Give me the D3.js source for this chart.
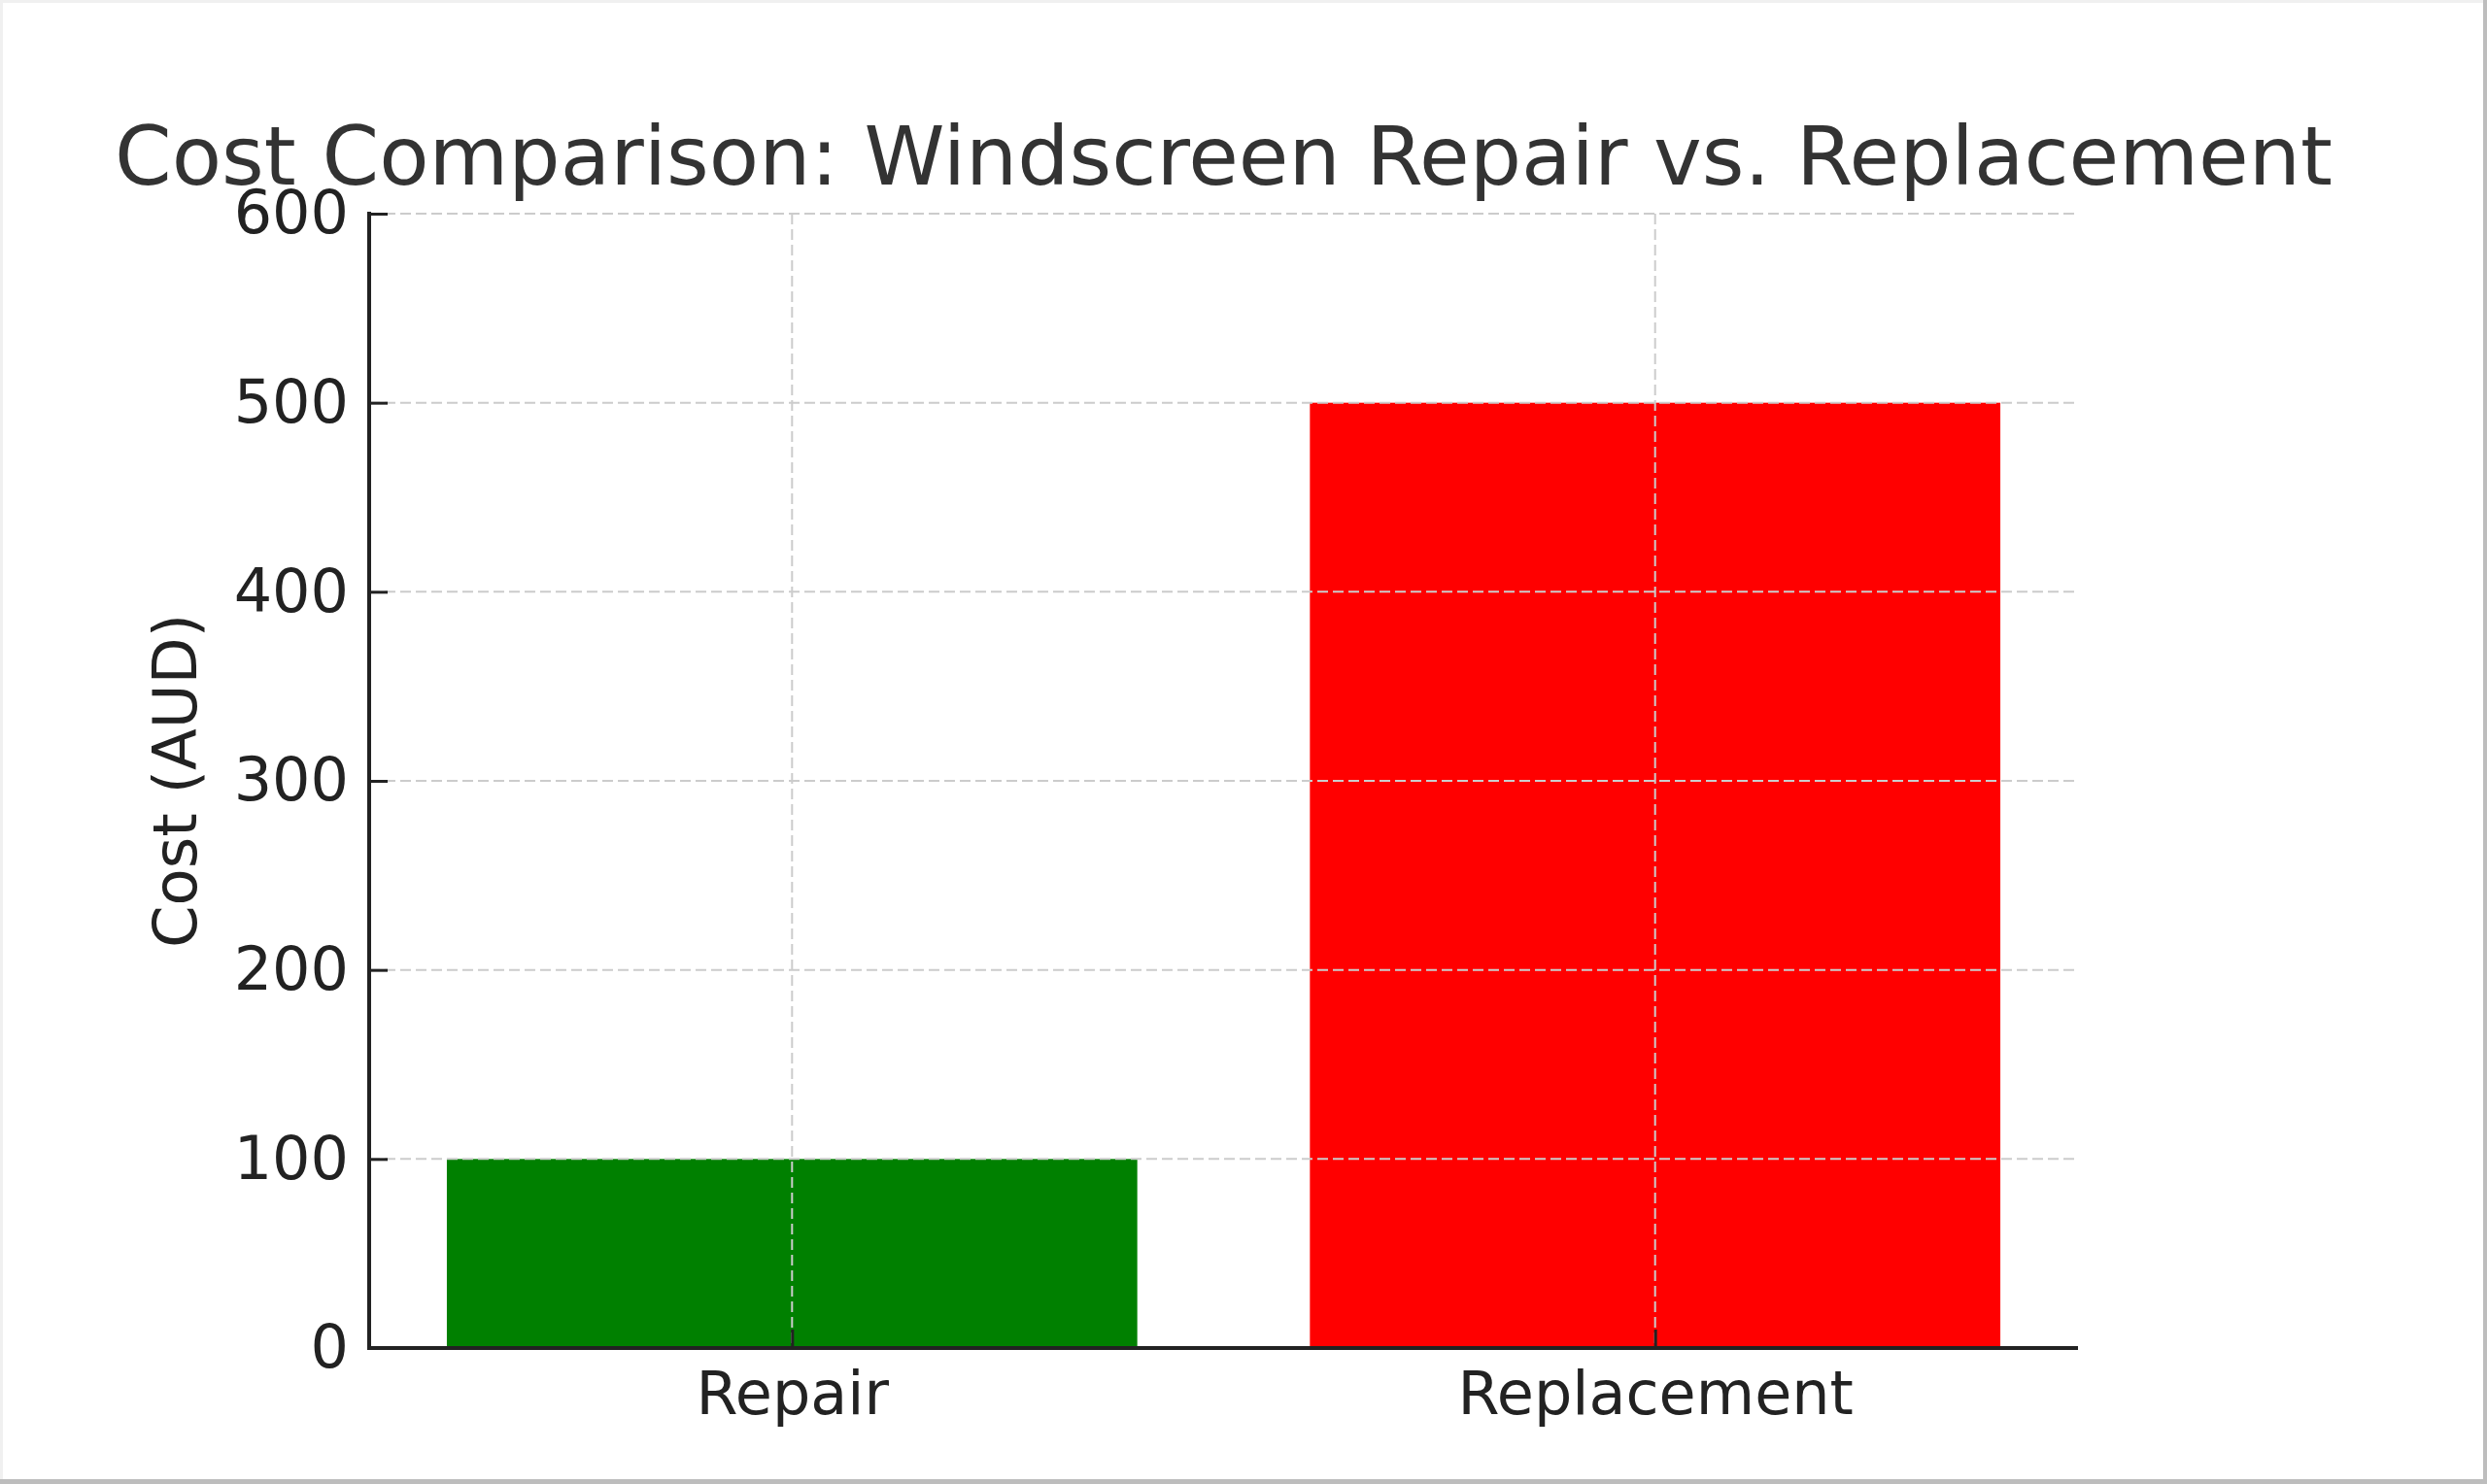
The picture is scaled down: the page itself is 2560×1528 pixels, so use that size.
<!DOCTYPE html>
<html>
<head>
<meta charset="utf-8">
<script src="https://cdn.jsdelivr.net/npm/d3@7"></script>
<style>
  body { margin: 0; background: #fff; }
  text { font-family: "DejaVu Sans", sans-serif; }
</style>
</head>
<body>
<script>

var categories = ["Repair", "Replacement"];
var costs      = [100, 500];
var barColors  = ["#008000", "#ff0000"];
var yTicks     = [0, 100, 200, 300, 400, 500, 600];
var title      = "Cost Comparison: Windscreen Repair vs. Replacement";
var yLabel     = "Cost (AUD)";

var width = 2560, height = 1528;
// plot area (window.top is taken, so no bare "top")
var plotLeft = 380, plotRight = 2139, plotTop = 220, plotBottom = 1388;

var svg = d3.select("body").append("svg")
  .attr("width", width)
  .attr("height", height);

// screenshot frame
svg.append("rect").attr("x", 0).attr("y", 0).attr("width", width).attr("height", height).attr("fill", "#f0f0f0");
svg.append("rect").attr("x", 0).attr("y", height - 5).attr("width", width).attr("height", 5).attr("fill", "#bdbdbd");
svg.append("rect").attr("x", width - 4).attr("y", 0).attr("width", 4).attr("height", height).attr("fill", "#bdbdbd");
svg.append("rect").attr("x", 3).attr("y", 3).attr("width", width - 7).attr("height", height - 8).attr("fill", "#fff");

// bars sit at 0 and 1 with width 0.8, like matplotlib with 5% margins
var x = d3.scaleLinear().domain([-0.49, 1.49]).range([plotLeft, plotRight]);
var y = d3.scaleLinear().domain([0, 600]).range([plotBottom, plotTop]);
var barW = 0.8;

var data = categories.map(function(c, i) {
  return { name: c, value: costs[i], color: barColors[i], i: i };
});

svg.append("g").selectAll("rect")
  .data(data)
  .enter().append("rect")
  .attr("x", function(d) { return x(d.i - barW / 2); })
  .attr("width", function(d) { return x(d.i + barW / 2) - x(d.i - barW / 2); })
  .attr("y", function(d) { return y(d.value); })
  .attr("height", function(d) { return y(0) - y(d.value); })
  .attr("fill", function(d) { return d.color; });

// dashed grid, drawn over the bars
var grid = svg.append("g")
  .attr("stroke", "#cccccc")
  .attr("stroke-width", 2)
  .attr("stroke-dasharray", "11,5");

grid.selectAll("line.h")
  .data(yTicks.slice(1))
  .enter().append("line")
  .attr("class", "h")
  .attr("x1", plotLeft).attr("x2", plotRight)
  .attr("y1", function(d) { return y(d); })
  .attr("y2", function(d) { return y(d); });

grid.selectAll("line.v")
  .data(data)
  .enter().append("line")
  .attr("class", "v")
  .attr("x1", function(d) { return x(d.i); })
  .attr("x2", function(d) { return x(d.i); })
  .attr("y1", plotTop).attr("y2", plotBottom);

// axes with inward ticks
var yAxis = d3.axisLeft(y)
  .tickValues(yTicks)
  .tickSize(-19)
  .tickPadding(21)
  .tickFormat(d3.format("d"));

var xAxis = d3.axisBottom(x)
  .tickValues(data.map(function(d) { return d.i; }))
  .tickSize(-19)
  .tickPadding(24)
  .tickFormat(function(i) { return categories[i]; });

var gy = svg.append("g")
  .attr("transform", "translate(" + plotLeft + ",0)")
  .call(yAxis);

var gx = svg.append("g")
  .attr("transform", "translate(0," + plotBottom + ")")
  .call(xAxis);

[gx, gy].forEach(function(g) {
  g.select(".domain").remove();
  g.selectAll(".tick line").attr("stroke", "#222").attr("stroke-width", 3);
  g.selectAll(".tick text")
    .attr("fill", "#222")
    .style("font-size", "62px")
    .style("font-family", "DejaVu Sans, sans-serif");
});

// spines: left and bottom only
svg.append("line")
  .attr("x1", plotLeft).attr("x2", plotLeft)
  .attr("y1", plotTop - 2).attr("y2", plotBottom + 2)
  .attr("stroke", "#222").attr("stroke-width", 4);
svg.append("line")
  .attr("x1", plotLeft - 2).attr("x2", plotRight)
  .attr("y1", plotBottom).attr("y2", plotBottom)
  .attr("stroke", "#222").attr("stroke-width", 4);

svg.append("text")
  .attr("x", (plotLeft + plotRight) / 2)
  .attr("y", 190)
  .attr("text-anchor", "middle")
  .attr("fill", "#333")
  .style("font-size", "84px")
  .text(title);

svg.append("text")
  .attr("transform", "translate(202," + ((plotTop + plotBottom) / 2) + ") rotate(-90)")
  .attr("text-anchor", "middle")
  .attr("fill", "#222")
  .style("font-size", "62.5px")
  .text(yLabel);

</script>
</body>
</html>
